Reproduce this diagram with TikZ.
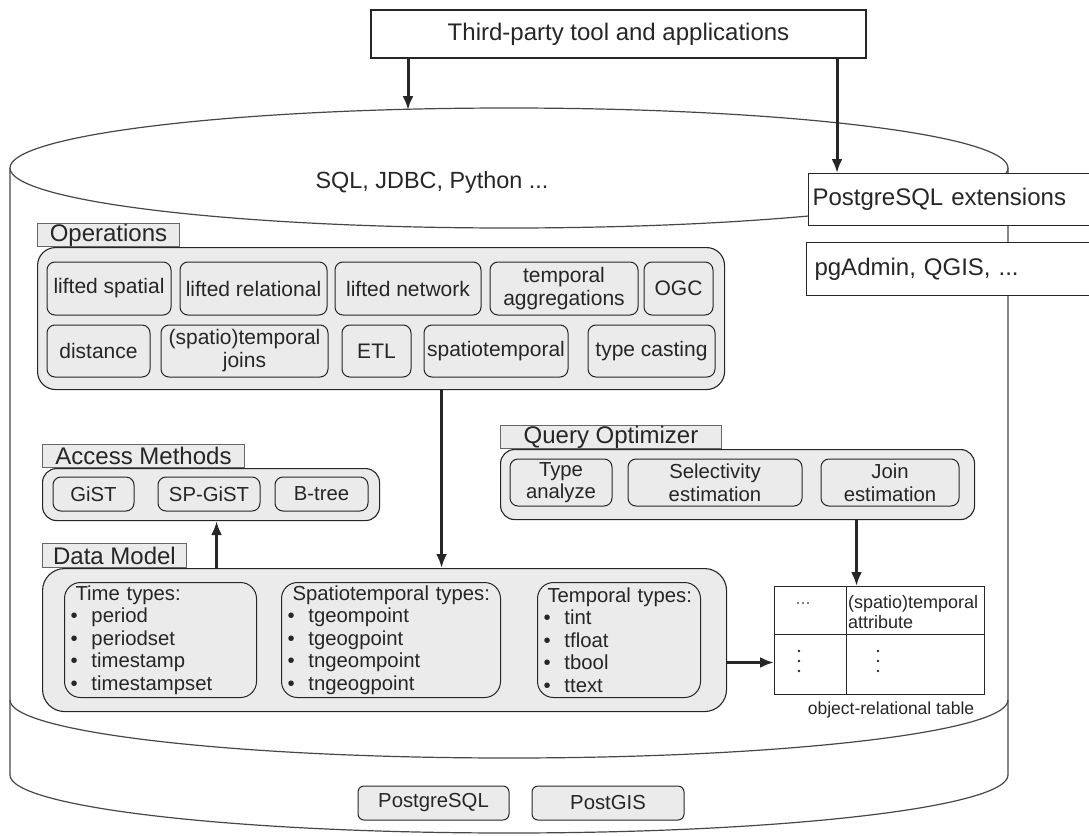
\documentclass[tikz,border=0pt]{standalone}
\usepackage{fontspec}
\setmainfont{Liberation Sans}
\usepackage{tikz}
\usetikzlibrary{positioning, shapes, arrows.meta}

\definecolor{boxgray}{HTML}{EBEBEB}
\definecolor{ink}{HTML}{262626}
\newcommand{\bul}{\makebox[21pt][l]{\textbullet}}

\tikzset{
  bigtxt/.style={font=\fontsize{24}{27}\selectfont},
  opstxt/.style={font=\fontsize{21}{23}\selectfont},
  midtxt/.style={font=\fontsize{20.3}{22.5}\selectfont},
  smalltxt/.style={font=\fontsize{18}{19.5}\selectfont},
  cyl/.style={draw=ink!85, line width=1.2pt},
  plainbox/.style={rectangle, draw=ink, fill=white, line width=1.1pt, inner sep=0pt, bigtxt, text=ink},
  tag/.style={rectangle, draw=ink!70, fill=boxgray, line width=1pt, inner sep=0pt, minimum height=23pt, bigtxt, text=ink},
  group/.style={rectangle, draw=ink, fill=boxgray, line width=1.1pt, rounded corners=14pt},
  opbox/.style={rectangle, draw=ink, fill=boxgray, line width=1pt, rounded corners=8pt, inner sep=0pt, align=center, text=ink},
  typebox/.style={rectangle, draw=ink, fill=boxgray, line width=1pt, rounded corners=16pt, inner xsep=6pt, inner ysep=0pt, minimum height=115pt, align=left, midtxt, text=ink},
  flow/.style={draw=ink, line width=3pt, -{Latex[length=14pt,width=11pt]}},
}

\begin{document}
\begin{tikzpicture}[x=1pt, y=-1pt]
  \fill[white] (0,0) rectangle (1089,835);
  \useasboundingbox (0,0) rectangle (1089,835);

  % Database cylinder
  \draw[cyl] (10,168) -- (10,775) arc[start angle=180, end angle=0, x radius=499, y radius=58] -- (1008,168);
  \draw[cyl] (10,700) arc[start angle=180, end angle=0, x radius=499, y radius=58];
  \draw[cyl, fill=white] (509,168) ellipse [x radius=499, y radius=60];
  \node[bigtxt, text=ink, font=\fontsize{23.4}{26}\selectfont] (api) at (432,182) {SQL, JDBC, Python ...};

  % Third-party tools
  \node[plainbox, minimum width=495pt, minimum height=48pt] (third) at (618.5,34) {Third-party tool and applications};
  \node[plainbox, anchor=north west, minimum height=52pt, text width=275pt, inner xsep=4pt, align=left] (ext) at (808,173) {PostgreSQL extensions};
  \node[plainbox, anchor=north west, minimum height=53pt, text width=275pt, inner xsep=8pt, align=left] (tools) at (806,242) {pgAdmin, QGIS, ...};
  \coordinate (apitop) at (408,110);
  \coordinate (extin) at ([xshift=29pt]ext.north west);
  \draw[flow] (third.south -| apitop) -- (apitop);
  \draw[flow] (extin |- third.south) -- (extin);

  % Operations
  \node[group, rounded corners=18pt, minimum width=687pt, minimum height=142pt, anchor=north west] (ops) at (37,247) {};
  \node[tag, minimum width=142pt, anchor=south west] (opstag) at (ops.north west) {Operations};
  \node[opbox, opstxt, minimum width=124pt, minimum height=53pt] (lspatial) at (109,288.5) {lifted spatial};
  \node[opbox, opstxt, minimum width=147pt, minimum height=53pt, right=8pt of lspatial] (lrel) {lifted relational};
  \node[opbox, opstxt, minimum width=146pt, minimum height=53pt, right=7pt of lrel] (lnet) {lifted network};
  \node[opbox, opstxt, minimum width=148pt, minimum height=53pt, right=8pt of lnet] (tagg) {temporal\\aggregations};
  \node[opbox, opstxt, minimum width=69pt, minimum height=53pt, right=5pt of tagg] (ogc) {OGC};
  \node[opbox, opstxt, minimum width=103pt, minimum height=52pt] (dist) at (98.5,351) {distance};
  \node[opbox, opstxt, minimum width=167pt, minimum height=52pt, right=10pt of dist] (joins) {(spatio)temporal\\joins};
  \node[opbox, opstxt, minimum width=69pt, minimum height=52pt, right=13pt of joins] (etl) {ETL};
  \node[opbox, opstxt, minimum width=144pt, minimum height=52pt, right=12pt of etl] (stemp) {spatiotemporal};
  \node[opbox, opstxt, minimum width=127pt, minimum height=52pt, right=19pt of stemp] (cast) {type casting};

  % Access Methods
  \node[group, minimum width=337pt, minimum height=52pt, anchor=north west] (am) at (42,468) {};
  \node[tag, minimum width=202pt, anchor=south west] (amtag) at (am.north west) {Access Methods};
  \node[opbox, midtxt, minimum width=81pt, minimum height=34pt] (gist) at (93.5,494) {GiST};
  \node[opbox, midtxt, minimum width=102pt, minimum height=34pt, right=23pt of gist] (spgist) {SP-GiST};
  \node[opbox, midtxt, minimum width=93pt, minimum height=34pt, right=14pt of spgist] (btree) {B-tree};

  % Query Optimizer
  \node[group, minimum width=474pt, minimum height=70pt, anchor=north west] (qo) at (500,449) {};
  \node[tag, minimum width=221pt, anchor=south west] (qotag) at (qo.north west) {Query Optimizer};
  \node[opbox, midtxt, minimum width=102pt, minimum height=47pt] (tanalyze) at (561,482.5) {Type\\analyze};
  \node[opbox, midtxt, minimum width=174pt, minimum height=47pt, right=15pt of tanalyze] (selest) {Selectivity\\estimation};
  \node[opbox, midtxt, minimum width=138pt, minimum height=47pt, right=18pt of selest] (joinest) {Join\\estimation};

  % Data Model
  \node[group, rounded corners=22pt, minimum width=684pt, minimum height=143pt, anchor=north west] (dm) at (42,568) {};
  \node[tag, minimum width=144pt, minimum height=24pt, anchor=south west] (dmtag) at (dm.north west) {Data Model};
  \node[typebox, text width=180pt, anchor=north west] (timet) at (64,582)
    {\hspace*{5pt}Time types:\\ \bul period\\ \bul periodset\\ \bul timestamp\\ \bul timestampset};
  \node[typebox, text width=207pt, anchor=north west, right=24pt of timet] (stt)
    {\hspace*{5pt}Spatiotemporal types:\\ \bul tgeompoint\\ \bul tgeogpoint\\ \bul tngeompoint\\ \bul tngeogpoint};
  \node[typebox, text width=151pt, anchor=north west, right=36pt of stt] (tempt)
    {\hspace*{4pt}Temporal types:\\ \bul tint\\ \bul tfloat\\ \bul tbool\\ \bul ttext};

  % Object-relational table
  \node[rectangle, draw=ink, line width=1pt, minimum width=210pt, minimum height=108pt, inner sep=0pt, anchor=north west] (tbl) at (774,586) {};
  \draw[draw=ink, line width=1pt] ([xshift=72pt]tbl.north west) -- ([xshift=72pt]tbl.south west);
  \draw[draw=ink, line width=1pt] ([yshift=-48pt]tbl.north west) -- ([yshift=-48pt]tbl.north east);
  \node[smalltxt, text=ink!70] (cdots) at (803,604) {...};
  \node[smalltxt, text=ink, anchor=west, align=left, inner sep=0pt] (attr) at (848,612) {(spatio)temporal\\attribute};
  \foreach \dx in {799, 878}
    \foreach \dy in {651, 661, 671}
      \fill[ink] (\dx,\dy) circle[radius=1.4pt];
  \node[text=ink, font=\fontsize{17.5}{19}\selectfont] (tblcap) at (891,710) {object-relational table};

  % Connections
  \coordinate (opsout) at ([xshift=60.5pt]ops.south);
  \coordinate (amin) at ([xshift=5.5pt]am.south);
  \coordinate (qoout) at ([xshift=-23pt]tbl.north);
  \coordinate (tblin) at ([yshift=-22pt]tbl.west);
  \draw[flow] (opsout) -- (opsout |- dm.north);
  \draw[flow] (amin |- dm.north) -- (amin);
  \draw[flow] (qoout |- qo.south) -- (qoout);
  \draw[flow] (tblin -| dm.east) -- (tblin);

  % Base
  \node[opbox, midtxt, minimum width=151pt, minimum height=34pt, rounded corners=6pt] (pgsql) at (433.5,803) {PostgreSQL};
  \node[opbox, midtxt, minimum width=152pt, minimum height=34pt, rounded corners=6pt, right=22pt of pgsql] (postgis) {PostGIS};
\end{tikzpicture}
\end{document}
